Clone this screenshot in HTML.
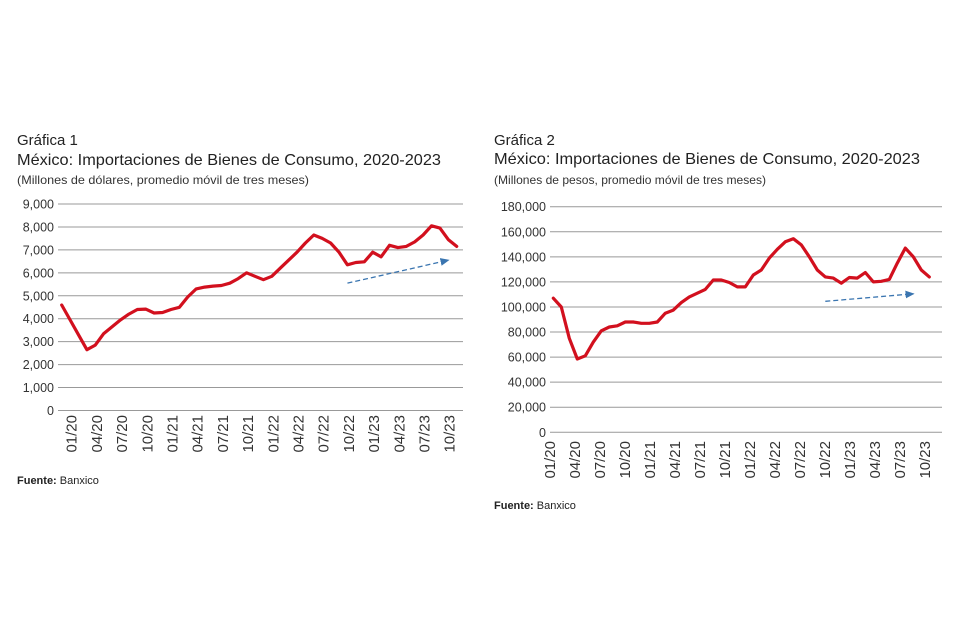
<!DOCTYPE html>
<html><head><meta charset="utf-8"><style>
html,body{margin:0;padding:0;background:#fff;}
svg{display:block;font-family:"Liberation Sans",sans-serif;}
</style></head><body>
<svg id="svg" width="960" height="640" viewBox="0 0 960 640">
<defs><marker id="ah" markerWidth="8" markerHeight="8" refX="6" refY="3" orient="auto"><path d="M0,0 L7,3 L0,6 z" fill="#3a75b0"/></marker></defs>
<g>
<text x="17" y="145" font-size="15" fill="#222">Gráfica 1</text>
<text x="17" y="165" font-size="16" fill="#222" textLength="424" lengthAdjust="spacingAndGlyphs">México: Importaciones de Bienes de Consumo, 2020-2023</text>
<text x="17" y="184" font-size="12" fill="#333" textLength="292" lengthAdjust="spacingAndGlyphs">(Millones de dólares, promedio móvil de tres meses)</text>
</g>
<g>
<text x="494" y="145" font-size="15" fill="#222">Gráfica 2</text>
<text x="494" y="164" font-size="16" fill="#222" textLength="426" lengthAdjust="spacingAndGlyphs">México: Importaciones de Bienes de Consumo, 2020-2023</text>
<text x="494" y="184" font-size="12" fill="#333" textLength="272" lengthAdjust="spacingAndGlyphs">(Millones de pesos, promedio móvil de tres meses)</text>
</g>
<text x="17" y="484" font-size="11" fill="#222"><tspan font-weight="bold">Fuente:</tspan> Banxico</text>
<text x="494" y="509" font-size="11" fill="#222"><tspan font-weight="bold">Fuente:</tspan> Banxico</text>
<g id="c1"></g>
<g id="c2"></g>
</svg>
<script>
const xLabels = ["01/20","04/20","07/20","10/20","01/21","04/21","07/21","10/21","01/22","04/22","07/22","10/22","01/23","04/23","07/23","10/23"];
const usdValues = [4600,3950,3300,2650,2850,3350,3650,3950,4200,4400,4420,4250,4270,4400,4500,4950,5300,5380,5420,5450,5550,5750,6000,5850,5700,5850,6200,6550,6900,7300,7650,7500,7300,6900,6350,6450,6480,6900,6700,7200,7100,7150,7350,7650,8050,7950,7450,7150];
const usdTicks = [0,1000,2000,3000,4000,5000,6000,7000,8000,9000];
const mxnValues = [107000,100000,75000,58500,61000,72000,81000,84000,85000,88000,88000,87000,87000,88000,95000,97500,103500,108000,111000,114000,121500,121500,119500,116000,116000,125500,129500,139000,146000,152000,154500,149500,140000,129500,124000,123000,119000,123500,123000,127500,120000,120500,122000,135000,147000,140000,129500,124000];
const mxnTicks = [0,20000,40000,60000,80000,100000,120000,140000,160000,180000];
const usdTrend = [[34,5550],[46,6550]];
const mxnTrend = [[34,104500],[45,110500]];
const NS='http://www.w3.org/2000/svg';
function mk(tag,attrs,parent){const e=document.createElementNS(NS,tag);for(const k in attrs)e.setAttribute(k,attrs[k]);parent.appendChild(e);return e;}
function draw(g,cfg,values,ticks,trend){
  const n=values.length, maxV=ticks[ticks.length-1];
  const xs=i=>cfg.x0+(cfg.x1-cfg.x0)*i/(n-1);
  const ys=v=>cfg.yb-(cfg.yb-cfg.yt)*v/maxV;
  ticks.forEach(t=>{
    const l=mk('line',{x1:cfg.gl,x2:cfg.gr,y1:ys(t),y2:ys(t),stroke:'#999','stroke-width':1},g);
    
    
    const tx=mk('text',{x:cfg.gl-4,y:ys(t)+4.5,'font-size':12.5,fill:'#333','text-anchor':'end'},g);
    tx.textContent=t.toLocaleString('en-US');
    
    
  });
  xLabels.forEach((lab,k)=>{
    const x=cfg.lx0+cfg.lstep*k;
    const tx=mk('text',{x:0,y:0,'font-size':15,fill:'#333','text-anchor':'end',transform:`translate(${x+5},${cfg.ly}) rotate(-90)`},g);
    tx.textContent=lab;
    
    
  });
  const d=values.map((v,i)=>(i?'L':'M')+xs(i).toFixed(1)+','+ys(v).toFixed(1)).join(' ');
  const p=mk('path',{d:d,fill:'none',stroke:'#d2101e','stroke-width':3.2,'stroke-linejoin':'round','stroke-linecap':'round'},g);
  
  
  const a=mk('line',{x1:xs(trend[0][0]),y1:ys(trend[0][1]),x2:xs(trend[1][0]),y2:ys(trend[1][1]),stroke:'#3a75b0','stroke-width':1.3,'stroke-dasharray':'5,3','marker-end':'url(#ah)'},g);
  
  
}
draw(document.getElementById('c1'),{x0:61.7,x1:456.7,yt:204,yb:410.5,gl:58,gr:463,lx0:71.7,lstep:25.2,ly:415},usdValues,usdTicks,usdTrend);
draw(document.getElementById('c2'),{x0:553.3,x1:929.3,yt:206.7,yb:432.3,gl:550,gr:942,lx0:550,lstep:25,ly:441},mxnValues,mxnTicks,mxnTrend);
</script>
</body></html>
